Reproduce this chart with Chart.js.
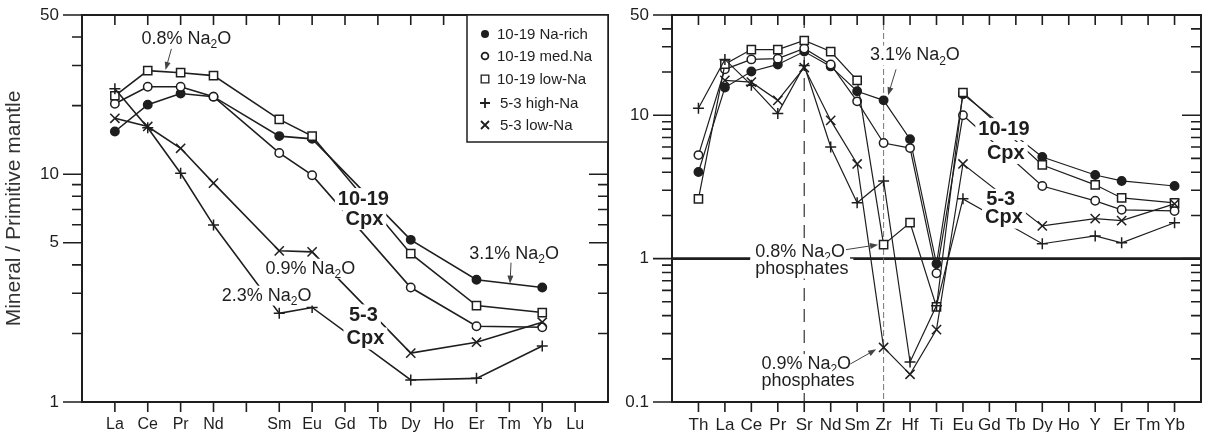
<!DOCTYPE html>
<html>
<head>
<meta charset="utf-8">
<script src="https://cdn.jsdelivr.net/npm/chart.js@4.4.0/dist/chart.umd.min.js"></script>
<style>
  body { margin: 0; background: #fff; }
  #wrap { position: relative; width: 1209px; height: 432px; }
  canvas { position: absolute; top: 0; }
</style>
</head>
<body>
<div id="wrap">
  <canvas id="ree" width="616" height="432" style="left:0"></canvas>
  <canvas id="trace" width="593" height="432" style="left:616px"></canvas>
</div>
<script>
// ---- data: left panel (REE) ----
var reeLabels = ['La','Ce','Pr','Nd','','Sm','Eu','Gd','Tb','Dy','Ho','Er','Tm','Yb','Lu'];
var ree1019NaRich = [15.4, 20.2, 22.6, 21.9, null, 14.7, 14.3, null, null, 5.15, null, 3.44, null, 3.18, null];
var ree1019MedNa  = [20.4, 24.2, 24.2, 21.9, null, 12.4, 9.9,  null, null, 3.18, null, 2.15, null, 2.13, null];
var ree1019LowNa  = [22.1, 28.5, 27.9, 27.1, null, 17.4, 14.7, null, null, 4.48, null, 2.65, null, 2.47, null];
var ree53HighNa   = [23.7, 16.0, 10.1, 5.98, null, 2.45, 2.60, null, null, 1.25, null, 1.27, null, 1.76, null];
var ree53LowNa    = [17.6, 16.2, 13.0, 9.14, null, 4.61, 4.56, null, null, 1.64, null, 1.83, null, 2.24, null];
var reeYLabels = [1, 5, 10, 50];
var reeYMinor  = [2, 3, 4, 6, 7, 8, 9, 20, 30, 40];

// ---- data: right panel (trace elements) ----
var trLabels = ['Th','La','Ce','Pr','Sr','Nd','Sm','Zr','Hf','Ti','Eu','Gd','Tb','Dy','Ho','Y','Er','Tm','Yb'];
var tr1019NaRich = [4.02, 15.6, 20.2, 22.6, 27.8, 21.9, 14.7, 12.7, 6.81, 0.92, 14.0, null, null, 5.11, null, 3.83, 3.48, null, 3.21];
var tr1019MedNa  = [5.27, 20.9, 24.5, 24.8, 29.2, 22.6, 12.5, 6.4,  5.9,  0.79, 10.0, null, null, 3.21, null, 2.53, 2.19, null, 2.15];
var tr1019LowNa  = [2.61, 22.7, 28.7, 28.7, 33.2, 27.8, 17.5, 1.25, 1.78, 0.46, 14.4, null, null, 4.5,  null, 3.27, 2.65, null, 2.45];
var tr53HighNa   = [11.2, 24.5, 16.2, 10.3, 22.2, 6.0,  2.45, 3.48, 0.19, 0.47, 2.61, null, null, 1.27, null, 1.44, 1.29, null, 1.78];
var tr53LowNa    = [null, 17.5, 17.0, 12.7, 21.5, 9.2,  4.57, 0.24, 0.156,0.32, 4.57, null, null, 1.69, null, 1.90, 1.84, null, 2.41];
var trYLabels = [0.1, 1, 10, 50];
var trYMinor  = [0.2,0.3,0.4,0.5,0.6,0.7,0.8,0.9, 2,3,4,5,6,7,8,9, 20,30,40];

var seriesNames = ['10-19 Na-rich', '10-19 med.Na', '10-19 low-Na', '5-3 high-Na', '5-3 low-Na'];

var FONT = '"Liberation Sans", Arial, Helvetica, sans-serif';
var INK = '#1e1e1e';
Chart.defaults.font.family = FONT;
Chart.defaults.color = INK;

var markStyles = [
  { pointStyle: 'circle',   r: 4.2, fill: INK },
  { pointStyle: 'circle',   r: 4.2, fill: '#fff' },
  { pointStyle: 'rect',     r: 5.8, fill: '#fff' },
  { pointStyle: 'cross',    r: 5.5, fill: '#fff' },
  { pointStyle: 'crossRot', r: 6.5, fill: '#fff' }
];

function toPoints(arr) {
  return arr.map(function (v, i) { return { x: i, y: v }; });
}

function buildDatasets(list, lw) {
  return list.map(function (arr, k) {
    var m = markStyles[k];
    return {
      label: seriesNames[k],
      data: toPoints(arr),
      borderColor: INK,
      borderWidth: lw,
      backgroundColor: m.fill,
      pointStyle: m.pointStyle,
      pointRadius: m.r,
      pointBorderColor: INK,
      pointBackgroundColor: m.fill,
      pointBorderWidth: 1.5,
      spanGaps: true,
      tension: 0,
      order: 5 - k
    };
  });
}

// text with "_2" subscripts, drawn on a white box
function drawRich(ctx, str, x, y, size, bold, align, pad) {
  var parts = str.split(/_(\d)/);
  var f = (bold ? 'bold ' : '') + size + 'px ' + FONT;
  var fs = (bold ? 'bold ' : '') + Math.round(size * 0.68) + 'px ' + FONT;
  var w = 0, ws = [];
  parts.forEach(function (p, i) {
    ctx.font = (i % 2) ? fs : f;
    var m = ctx.measureText(p).width;
    ws.push(m); w += m;
  });
  var x0 = align === 'center' ? x - w / 2 : x;
  pad = pad == null ? 3 : pad;
  ctx.fillStyle = '#fff';
  ctx.fillRect(x0 - pad, y - size * 0.55, w + pad * 2, size * 1.1);
  ctx.fillStyle = INK;
  ctx.textAlign = 'left';
  ctx.textBaseline = 'middle';
  var cx = x0;
  parts.forEach(function (p, i) {
    ctx.font = (i % 2) ? fs : f;
    ctx.fillText(p, cx, (i % 2) ? y + size * 0.32 : y);
    cx += ws[i];
  });
}

function drawArrow(ctx, x1, y1, x2, y2) {
  var ang = Math.atan2(y2 - y1, x2 - x1);
  ctx.strokeStyle = '#444';
  ctx.fillStyle = '#444';
  ctx.lineWidth = 1;
  ctx.beginPath();
  ctx.moveTo(x1, y1);
  ctx.lineTo(x2 - 5 * Math.cos(ang), y2 - 5 * Math.sin(ang));
  ctx.stroke();
  ctx.beginPath();
  ctx.moveTo(x2, y2);
  ctx.lineTo(x2 - 8 * Math.cos(ang) + 3 * Math.sin(ang), y2 - 8 * Math.sin(ang) - 3 * Math.cos(ang));
  ctx.lineTo(x2 - 8 * Math.cos(ang) - 3 * Math.sin(ang), y2 - 8 * Math.sin(ang) + 3 * Math.cos(ang));
  ctx.closePath();
  ctx.fill();
}

function drawSymbol(ctx, k, x, y) {
  ctx.strokeStyle = INK;
  ctx.fillStyle = INK;
  ctx.lineWidth = 1.8;
  ctx.beginPath();
  if (k === 0) { ctx.arc(x, y, 4, 0, Math.PI * 2); ctx.fill(); }
  else if (k === 1) { ctx.arc(x, y, 3.4, 0, Math.PI * 2); ctx.stroke(); }
  else if (k === 2) { ctx.lineWidth = 1.3; ctx.rect(x - 3.8, y - 3.8, 7.6, 7.6); ctx.stroke(); }
  else if (k === 3) { ctx.moveTo(x - 5, y); ctx.lineTo(x + 5, y); ctx.moveTo(x, y - 5); ctx.lineTo(x, y + 5); ctx.stroke(); }
  else { ctx.moveTo(x - 4, y - 4); ctx.lineTo(x + 4, y + 4); ctx.moveTo(x + 4, y - 4); ctx.lineTo(x - 4, y + 4); ctx.stroke(); }
}

// frame, inward/outward tick marks
var framePlugin = {
  id: 'frame',
  afterDraw: function (chart, args, o) {
    var ctx = chart.ctx, a = chart.chartArea, xs = chart.scales.x, ys = chart.scales.y;
    ctx.save();
    ctx.strokeStyle = INK;
    ctx.lineWidth = 2;
    ctx.strokeRect(a.left, a.top, a.right - a.left, a.bottom - a.top);
    ctx.lineWidth = 1.6;
    ctx.beginPath();
    for (var i = 0; i < o.nCat; i++) {
      var px = xs.getPixelForValue(i);
      ctx.moveTo(px, a.bottom); ctx.lineTo(px, a.bottom + 10);
      ctx.moveTo(px, a.top); ctx.lineTo(px, a.top + 10);
    }
    o.major.forEach(function (v) {
      var py = ys.getPixelForValue(v);
      ctx.moveTo(a.left - 19, py); ctx.lineTo(a.left, py);
      ctx.moveTo(a.right - 19, py); ctx.lineTo(a.right, py);
    });
    o.minor.forEach(function (v) {
      var py = ys.getPixelForValue(v);
      ctx.moveTo(a.left - 10, py); ctx.lineTo(a.left, py);
      ctx.moveTo(a.right - 10, py); ctx.lineTo(a.right, py);
    });
    ctx.stroke();

    if (o.legend) {
      var bw = 141, bh = 127, bx = a.right - bw, by = a.top;
      ctx.fillStyle = '#fff';
      ctx.fillRect(bx, by, bw, bh);
      ctx.lineWidth = 1.5;
      ctx.strokeRect(bx, by, bw, bh);
      var rows = [19, 41, 64, 88, 110];
      ctx.font = '15px ' + FONT;
      ctx.textBaseline = 'middle';
      ctx.textAlign = 'left';
      seriesNames.forEach(function (n, k) {
        drawSymbol(ctx, k, bx + 18, by + rows[k]);
        ctx.fillStyle = INK;
        ctx.fillText(n, bx + (k < 3 ? 30 : 33), by + rows[k] + 1);
      });
    }
    ctx.restore();
  }
};

// reference lines under the data, labels and arrows above
var notesPlugin = {
  id: 'notes',
  beforeDatasetsDraw: function (chart, args, o) {
    if (!o.refs) return;
    var ctx = chart.ctx, a = chart.chartArea, xs = chart.scales.x, ys = chart.scales.y;
    ctx.save();
    o.refs.forEach(function (r) {
      ctx.beginPath();
      ctx.strokeStyle = r.color;
      ctx.lineWidth = r.width;
      ctx.setLineDash(r.dash || []);
      if (r.y != null) {
        var py = ys.getPixelForValue(r.y);
        ctx.moveTo(a.left, py); ctx.lineTo(a.right, py);
      } else {
        var px = xs.getPixelForValue(r.x);
        ctx.moveTo(px, a.top); ctx.lineTo(px, a.bottom);
      }
      ctx.stroke();
    });
    ctx.restore();
  },
  afterDatasetsDraw: function (chart, args, o) {
    var ctx = chart.ctx, xs = chart.scales.x, ys = chart.scales.y;
    ctx.save();
    (o.texts || []).forEach(function (t) {
      drawRich(ctx, t.text, xs.getPixelForValue(t.x), ys.getPixelForValue(t.y),
        t.size, t.bold, t.align, t.pad);
    });
    (o.arrows || []).forEach(function (r) {
      drawArrow(ctx, xs.getPixelForValue(r[0]), ys.getPixelForValue(r[1]),
        xs.getPixelForValue(r[2]), ys.getPixelForValue(r[3]));
    });
    ctx.restore();
  }
};

function noPad(s) {
  s.paddingTop = 0; s.paddingBottom = 0; s.paddingLeft = 0; s.paddingRight = 0;
}

function makeChart(id, labels, lists, lw, yMin, yMax, yLabels, yMinor, yWidth, rightPad, xFont, yTitle, notes, legend) {
  return new Chart(document.getElementById(id), {
    type: 'line',
    data: { datasets: buildDatasets(lists, lw) },
    plugins: [framePlugin, notesPlugin],
    options: {
      responsive: false,
      animation: false,
      devicePixelRatio: 1,
      events: [],
      layout: { padding: { top: 15, right: rightPad, left: 0, bottom: 0 } },
      plugins: {
        legend: { display: false },
        tooltip: { enabled: false },
        frame: { nCat: labels.length, major: yLabels, minor: yMinor, legend: legend },
        notes: notes
      },
      scales: {
        x: {
          type: 'linear',
          min: -1,
          max: labels.length,
          grid: { display: false, drawTicks: false },
          border: { display: false },
          afterFit: function (s) { s.height = 30; noPad(s); },
          ticks: {
            stepSize: 1,
            autoSkip: false,
            maxRotation: 0,
            padding: 13,
            font: { size: xFont },
            color: INK,
            callback: function (v) { return labels[v] || ''; }
          }
        },
        y: {
          type: 'logarithmic',
          min: yMin,
          max: yMax,
          grid: { display: false, drawTicks: false },
          border: { display: false },
          afterFit: function (s) { s.width = yWidth; noPad(s); },
          afterBuildTicks: function (s) {
            s.ticks = yLabels.map(function (v) { return { value: v }; });
          },
          title: yTitle ? {
            display: true,
            text: yTitle,
            font: { size: 21 },
            color: '#333',
            padding: { top: 2, bottom: 0 }
          } : { display: false },
          ticks: {
            padding: 23,
            font: { size: 17 },
            color: INK,
            callback: function (v) { return String(v); }
          }
        }
      }
    }
  });
}

// left panel
makeChart('ree', reeLabels,
  [ree1019NaRich, ree1019MedNa, ree1019LowNa, ree53HighNa, ree53LowNa],
  1.6, 1, 50, reeYLabels, reeYMinor, 82, 4, 16, 'Mineral / Primitive mantle',
  {
    texts: [
      { text: '0.8% Na_2O', x: 0.81, y: 39.3, size: 18, align: 'left' },
      { text: '10-19', x: 7.56, y: 7.78, size: 20, bold: true, align: 'center' },
      { text: 'Cpx', x: 7.59, y: 6.36, size: 20, bold: true, align: 'center' },
      { text: '0.9% Na_2O', x: 4.58, y: 3.85, size: 18, align: 'left', pad: 2 },
      { text: '2.3% Na_2O', x: 3.25, y: 2.93, size: 18, align: 'left', pad: 2 },
      { text: '5-3', x: 7.56, y: 2.40, size: 20, bold: true, align: 'center' },
      { text: 'Cpx', x: 7.62, y: 1.90, size: 20, bold: true, align: 'center' },
      { text: '3.1% Na_2O', x: 10.78, y: 4.47, size: 18, align: 'left', pad: 2 }
    ],
    arrows: [
      [1.72, 35.5, 1.54, 28.7],
      [12.05, 4.09, 12.02, 3.31]
    ]
  }, true);

// right panel
makeChart('trace', trLabels,
  [tr1019NaRich, tr1019MedNa, tr1019LowNa, tr53HighNa, tr53LowNa],
  1.2, 0.1, 50, trYLabels, trYMinor, 56, 6, 17, null,
  {
    refs: [
      { y: 1, color: INK, width: 2.6 },
      { x: 4, color: '#444', width: 1.3, dash: [13, 8] },
      { x: 7, color: '#777', width: 1, dash: [6, 3] }
    ],
    texts: [
      { text: '3.1% Na_2O', x: 6.49, y: 26.1, size: 18, align: 'left', pad: 2 },
      { text: '0.8% Na_2O', x: 2.15, y: 1.12, size: 18, align: 'left', pad: 5 },
      { text: 'phosphates', x: 2.15, y: 0.852, size: 18, align: 'left', pad: 5 },
      { text: '0.9% Na_2O', x: 2.38, y: 0.184, size: 18, align: 'left', pad: 2 },
      { text: 'phosphates', x: 2.38, y: 0.14, size: 18, align: 'left', pad: 2 },
      { text: '10-19', x: 11.55, y: 8.0, size: 20, bold: true, align: 'center' },
      { text: 'Cpx', x: 11.62, y: 5.45, size: 20, bold: true, align: 'center' },
      { text: '5-3', x: 11.43, y: 2.57, size: 20, bold: true, align: 'center' },
      { text: 'Cpx', x: 11.55, y: 1.93, size: 20, bold: true, align: 'center' }
    ],
    arrows: [
      [7.47, 20.9, 7.17, 13.8],
      [5.58, 1.155, 6.79, 1.25],
      [5.74, 0.184, 6.72, 0.233]
    ]
  }, false);
</script>
</body>
</html>
